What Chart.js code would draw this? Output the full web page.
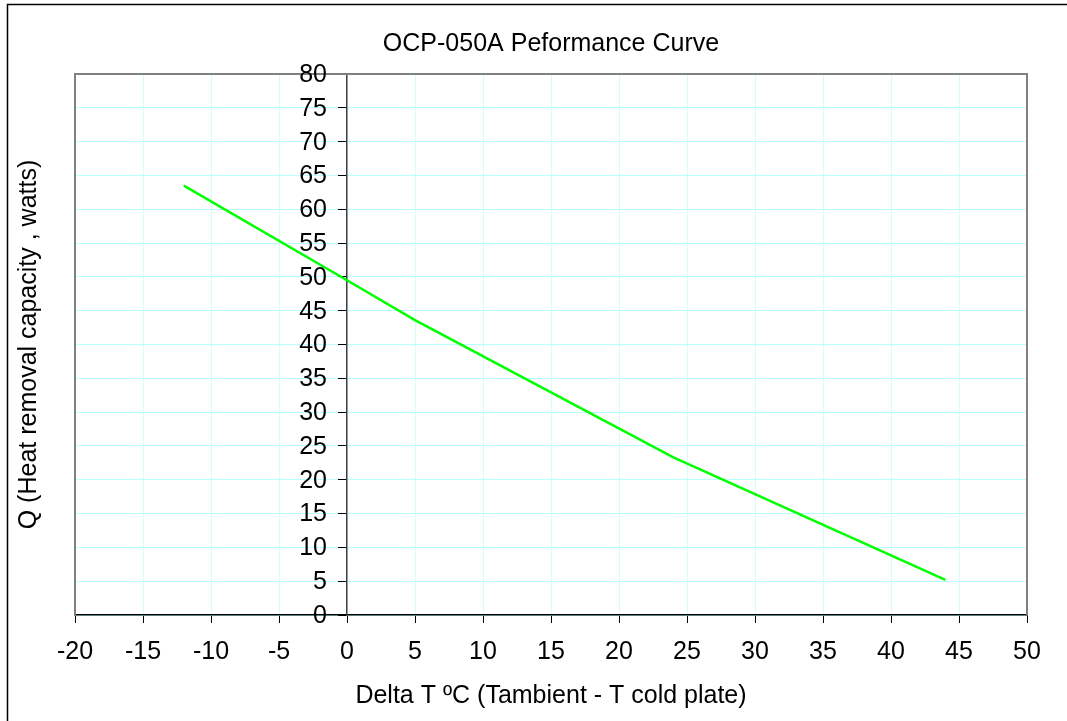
<!DOCTYPE html>
<html>
<head>
<meta charset="utf-8">
<script src="https://cdn.jsdelivr.net/npm/chart.js@4/dist/chart.umd.min.js"></script>
<style>
  html, body { margin: 0; padding: 0; background: #fff; }
  #wrap { width: 1067px; height: 721px; position: relative; }
</style>
</head>
<body>
<div id="wrap"><canvas id="chart" width="1067" height="721"></canvas></div>
<script>
// Curve points
const deltaT = [-12, 0, 5, 24, 44];
const heatQ = [63.5, 49.5, 43.6, 23.3, 5.2];

const xMin = -20, xMax = 50, xStep = 5;
const yMin = 0, yMax = 80, yStep = 5;

const fontFam = "'Liberation Sans', Arial, sans-serif";
const fontSize = 25;

// outer frame, top/right edges of the plot box, y labels beside the zero axis
const framePlugin = {
  id: "frame",
  beforeDraw(chart) {
    const ctx = chart.ctx;
    ctx.save();
    ctx.fillStyle = "#fff";
    ctx.fillRect(0, 0, chart.width, chart.height);
    ctx.strokeStyle = "#000";
    ctx.lineWidth = 1.5;
    ctx.beginPath();
    ctx.moveTo(7.5, chart.height + 5);
    ctx.lineTo(7.5, 4.5);
    ctx.lineTo(chart.width + 5, 4.5);
    ctx.stroke();
    ctx.restore();
  },
  beforeDatasetsDraw(chart) {
    const { left, top, right, bottom } = chart.chartArea;
    const ctx = chart.ctx;
    ctx.save();
    ctx.strokeStyle = "#808080";
    ctx.lineWidth = 2;
    ctx.beginPath();
    ctx.moveTo(left, top);
    ctx.lineTo(right, top);
    ctx.lineTo(right, bottom);
    ctx.stroke();
    ctx.restore();
  },
  afterDraw(chart) {
    // chart.js ignores ticks.padding for an axis pinned to a value, so place labels here
    const yz = chart.scales.yZero;
    const x0 = chart.scales.x.getPixelForValue(0);
    const ctx = chart.ctx;
    ctx.save();
    ctx.fillStyle = "#000";
    ctx.font = fontSize + "px " + fontFam;
    ctx.textAlign = "right";
    ctx.textBaseline = "middle";
    yz.ticks.forEach((t) => {
      ctx.fillText(String(t.value), x0 - 20, yz.getPixelForValue(t.value) + 1);
    });
    ctx.restore();
  },
};

new Chart(document.getElementById("chart"), {
  type: "line",
  data: {
    datasets: [
      {
        label: "Q",
        data: deltaT.map((x, i) => ({ x, y: heatQ[i] })),
        borderColor: "#00ff00",
        borderWidth: 2.5,
        pointRadius: 0,
        tension: 0,
        fill: false,
      },
    ],
  },
  options: {
    responsive: false,
    animation: false,
    layout: { padding: { left: 8, right: 40, top: 0, bottom: 0 } },
    plugins: {
      legend: { display: false },
      tooltip: { enabled: false },
      title: {
        display: true,
        fullSize: false,
        text: "OCP-050A Peformance Curve",
        color: "#000",
        font: { family: fontFam, size: fontSize, weight: "normal" },
        padding: { top: 29.5, bottom: 14.5 },
      },
    },
    scales: {
      x: {
        type: "linear",
        position: "bottom",
        min: xMin,
        max: xMax,
        ticks: {
          stepSize: xStep,
          color: "#000",
          padding: 14,
          font: { family: fontFam, size: fontSize },
        },
        grid: { color: "#d4fcfc", tickColor: "#000", tickLength: 8, lineWidth: 1 },
        border: { color: "#000", width: 1.5 },
        title: {
          display: true,
          text: "Delta T ºC (Tambient - T cold plate)",
          color: "#000",
          font: { family: fontFam, size: fontSize },
          padding: { top: 0, bottom: 10 },
        },
      },
      y: {
        type: "linear",
        position: "left",
        min: yMin,
        max: yMax,
        ticks: { stepSize: yStep, display: false },
        grid: { color: "#b8ffff", drawTicks: false, lineWidth: 1 },
        border: { color: "#808080", width: 2 },
        title: {
          display: true,
          text: "Q (Heat removal capacity , watts)",
          color: "#000",
          font: { family: fontFam, size: fontSize },
          padding: { top: 6, bottom: 31 },
        },
      },
      yZero: {
        type: "linear",
        position: { x: 0 },
        min: yMin,
        max: yMax,
        ticks: { stepSize: yStep, display: false },
        grid: { drawOnChartArea: false, tickColor: "#000", tickLength: 8 },
        border: { color: "#404040", width: 1.5 },
      },
    },
  },
  plugins: [framePlugin],
});
</script>
</body>
</html>
